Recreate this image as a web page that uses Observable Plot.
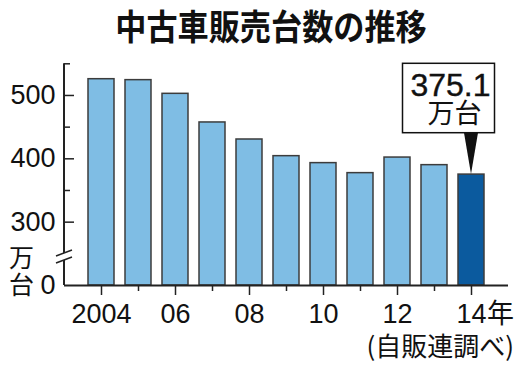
<!DOCTYPE html>
<html>
<head>
<meta charset="utf-8">
<script src="https://cdn.jsdelivr.net/npm/d3@7"></script>
<script src="https://cdn.jsdelivr.net/npm/@observablehq/plot@0.6"></script>
<style>
  html, body { margin: 0; padding: 0; background: #fff; }
  body { width: 525px; height: 371px; overflow: hidden; position: relative;
         font-family: "Noto Sans CJK JP", "Liberation Sans", sans-serif; color: #111; }
  #title { position: absolute; left: 0; top: 7px; width: 542px; text-align: center;
           font-size: 35px; font-weight: bold; line-height: 1; transform: scaleX(0.89); transform-origin: 271px 0; white-space: nowrap; }
  #chart { position: absolute; left: 0; top: 55px; }
  #unit { position: absolute; left: 9px; top: 243px; font-size: 25px; line-height: 27px; width: 26px; }
  #source { position: absolute; right: 11px; top: 334px; font-size: 26px; line-height: 22px; white-space: nowrap; }
</style>
</head>
<body>
<div id="title"></div>
<div id="chart"></div>
<div id="unit"></div>
<div id="source"></div>
<script>
// ---- data ----
const titleText = "中古車販売台数の推移";
const unitText = "万台";
const sourceText = "(自販連調べ)";
const years = [2004, 2005, 2006, 2007, 2008, 2009, 2010, 2011, 2012, 2013, 2014];
const sales = [525.7, 524.2, 502.6, 457.4, 430.5, 404.2, 393.2, 377.4, 402.0, 390.0, 375.1];
const highlightYear = 2014;
const calloutValue = "375.1";
const calloutUnit = "万台";
const yTickValues = [200, 300, 400, 500];       // 200 is drawn as the broken-axis "0"
const yTickLabels = ["0", "300", "400", "500"];
const yMinorTicks = [350, 450, 550];
const xLabelYears = [2004, 2006, 2008, 2010, 2012, 2014];
const xLabelTexts = ["2004", "06", "08", "10", "12", "14"];
const xLastSuffix = "年";

// ---- build ----
document.getElementById("title").textContent = titleText;
document.getElementById("unit").innerHTML = unitText.split("").join("<br>");
document.getElementById("source").textContent = sourceText;

const data = years.map((y, i) => ({year: y, value: sales[i]}));
const lightBlue = "#7fbde4";
const darkBlue = "#0b5a9e";
const ink = "#222";

const W = 525, H = 316;
const mLeft = 64, mRight = 17, mTop = 8.3, mBottom = 86;
const frameW = W - mLeft - mRight;

const yLabel = d => yTickLabels[yTickValues.indexOf(d)];
const xLabel = d => xLabelTexts[xLabelYears.indexOf(d)];
const oddYears = years.filter(y => !xLabelYears.includes(y));

function decorations(index, scales, values, dims) {
  const g = d3.create("svg:g");
  const x0 = dims.marginLeft;
  const yTop = dims.marginTop;
  const yBot = dims.height - dims.marginBottom;
  // y axis line
  g.append("line").attr("x1", x0).attr("x2", x0).attr("y1", yTop).attr("y2", yBot)
    .attr("stroke", ink).attr("stroke-width", 2);
  // axis break
  const yb = yBot - 27;
  g.append("path")
    .attr("d", `M${x0 - 8},${yb - 2} L${x0 + 8},${yb - 8} L${x0 + 8},${yb - 1} L${x0 - 8},${yb + 5} Z`)
    .attr("fill", "#fff");
  g.append("path")
    .attr("d", `M${x0 - 8},${yb - 2} L${x0 + 8},${yb - 8} M${x0 - 8},${yb + 5} L${x0 + 8},${yb - 1}`)
    .attr("stroke", ink).attr("stroke-width", 1.5).attr("fill", "none");
  // callout
  let bw = scales.x.bandwidth;
  if (typeof bw === "function") bw = bw();
  if (!(bw > 0)) bw = 26;
  const cx = scales.x(highlightYear) + bw / 2;
  const vy = scales.y(sales[years.indexOf(highlightYear)]);
  const bx0 = cx - 68.5, bx1 = cx + 23.5, by0 = yTop, by1 = yTop + 69.4;
  g.append("rect").attr("x", bx0).attr("y", by0).attr("width", bx1 - bx0).attr("height", by1 - by0)
    .attr("fill", "#fff").attr("stroke", "#111").attr("stroke-width", 1.5);
  const bc = (bx0 + bx1) / 2;
  g.append("text").attr("x", bc + 2).attr("y", by0 + 33)
    .attr("text-anchor", "middle").attr("font-size", 32)
    .attr("font-family", "'Liberation Sans', sans-serif").attr("fill", "#111")
    .attr("stroke", "#111").attr("stroke-width", 0.4)
    .text(calloutValue);
  g.append("text").attr("x", bc + 6).attr("y", by0 + 60)
    .attr("text-anchor", "middle").attr("font-size", 27)
    .attr("font-family", "'Noto Sans CJK JP', sans-serif").attr("fill", "#111")
    .text(calloutUnit);
  g.append("path")
    .attr("d", `M${cx - 7},${by1} L${cx + 7},${by1} L${cx},${vy} Z`)
    .attr("fill", "#111");
  return g.node();
}

const plot = Plot.plot({
  width: W,
  height: H,
  marginLeft: mLeft,
  marginRight: mRight,
  marginTop: mTop,
  marginBottom: mBottom,
  style: {fontSize: "27px", fontFamily: "'Liberation Sans', 'Noto Sans CJK JP', sans-serif", color: ink, background: "transparent"},
  x: {type: "band", domain: years, padding: 0.31, insetLeft: 9.3, insetRight: 8.9, axis: null, label: null},
  y: {domain: [200, 550], axis: null, label: null},
  color: {type: "identity"},
  marks: [
    Plot.barY(data, {
      x: "year", y1: 200, y2: "value",
      fill: d => d.year === highlightYear ? darkBlue : lightBlue,
      stroke: "#3c3c3c", strokeWidth: 1.5
    }),
    Plot.ruleY([200], {stroke: ink, strokeWidth: 2}),
    Plot.tickY(yTickValues.filter(v => v !== 200), {y: d => d, insetRight: frameW - 10, stroke: ink, strokeWidth: 1.5}),
    Plot.tickY(yMinorTicks, {y: d => d, insetRight: frameW - 6, stroke: ink, strokeWidth: 1.5}),
    Plot.axisY({ticks: yTickValues, tickSize: 0, tickPadding: 9, tickFormat: yLabel, fontSize: 27, fill: "#111", label: null}),
    Plot.axisX({ticks: oddYears, tickSize: 6, tickFormat: () => "", stroke: ink, strokeWidth: 1.5, label: null}),
    Plot.axisX({ticks: xLabelYears, tickSize: 10, tickPadding: 8, tickFormat: xLabel, fontSize: 27, fill: "#111", stroke: ink, strokeWidth: 1.5, label: null}),
    Plot.text([highlightYear], {x: d => d, frameAnchor: "bottom", lineAnchor: "top", dy: 18, dx: 29,
      text: () => xLastSuffix, fontSize: 27, fill: "#111", fontFamily: "'Noto Sans CJK JP', sans-serif"}),
    decorations
  ]
});
document.getElementById("chart").appendChild(plot);
</script>
</body>
</html>
